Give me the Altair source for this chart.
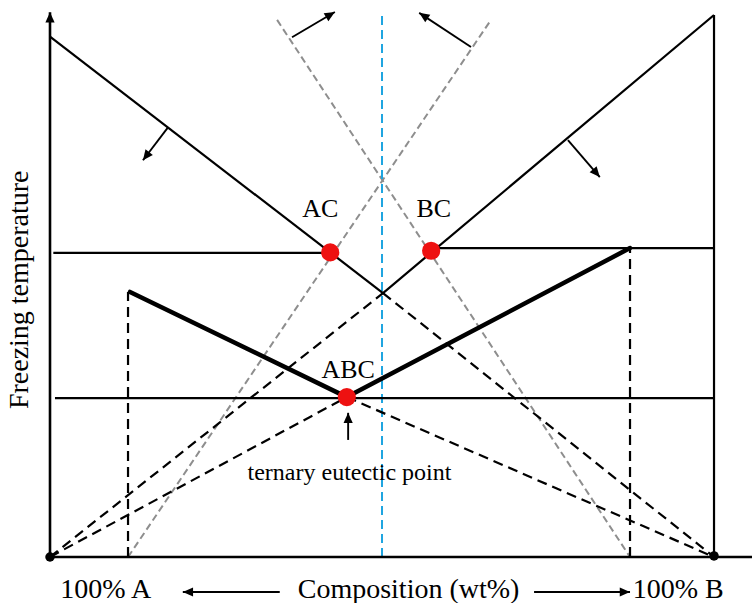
import math
import altair as alt
import pandas as pd

# ---- coordinate frame: composition (0 = 100% A, 100 = 100% B), temperature (relative) ----
X_MIN, X_MAX = -7.53, 105.72
Y_MIN, Y_MAX = -8.49, 102.77
W, H = 752, 603
PX_X = W / (X_MAX - X_MIN)
PX_Y = H / (Y_MAX - Y_MIN)

# Axes (left axis and bottom axis)
axis_x1 = [0, 0]
axis_y1 = [0, 0]
axis_x2 = [0, 106]
axis_y2 = [100.5, 0]

# Solid thin lines: liquidus lines, isotherms, right border
solid_x1 = [0, 50.15, 0.5, 57.2, 0.75, 100]
solid_y1 = [96.0, 48.7, 56.1, 57.0, 29.3, 0]
solid_x2 = [50.15, 100, 42.2, 100, 100, 100]
solid_y2 = [48.7, 100, 56.1, 57.0, 29.3, 100]

# Thick eutectic valley lines
thick_x1 = [12.05, 44.7]
thick_y1 = [48.9, 29.5]
thick_x2 = [44.7, 87.35]
thick_y2 = [29.5, 57.0]

# Black dashed construction lines
dash_x1 = [11.75, 87.35, 0, 50.15, 0, 44.7]
dash_y1 = [0, 0, 0, 48.7, 0, 29.5]
dash_x2 = [11.75, 87.35, 50.15, 100, 44.7, 100]
dash_y2 = [48.9, 57.0, 48.7, 0, 29.5, 0]

# Gray dashed lines
gray_x1 = [11.75, 34.2]
gray_y1 = [0, 99.1]
gray_x2 = [66.3, 87.35]
gray_y2 = [98.9, 0]

# Blue dashed vertical
blue_x1 = [50.0]
blue_y1 = [0]
blue_x2 = [50.0]
blue_y2 = [100.0]

# Arrows (start -> tip)
arrow_x1 = [36.45, 63.4, 17.8, 78.0, 44.9, 34.6, 72.9]
arrow_y1 = [95.9, 94.1, 79.3, 76.9, 21.6, -6.46, -6.46]
arrow_x2 = [42.9, 55.6, 14.0, 82.8, 44.9, 20.0, 87.35]
arrow_y2 = [100.55, 100.4, 73.2, 70.1, 26.6, -6.46, -6.46]

# Red points (AC, BC, ABC)
red_x = [42.2, 57.4, 44.7]
red_y = [56.2, 56.5, 29.5]

# Black end points (100% A, 100% B)
end_x = [0, 100]
end_y = [0, 0.2]

# Labels
lab_text = ["AC", "BC", "ABC", "ternary eutectic point"]
lab_x = [40.7, 57.8, 44.9, 45.1]
lab_y = [62.7, 62.7, 33.0, 14.2]
lab_size = [26, 26, 26, 24]

bot_text = ["100% A", "Composition (wt%)", "100% B"]
bot_x = [8.4, 54.0, 94.6]
bot_y = [-7.56, -7.56, -7.56]

ylab_text = ["Freezing  temperature"]
ylab_x = [-3.31]
ylab_y = [49.3]

FONT = "Liberation Serif"

xs = alt.Scale(domain=[X_MIN, X_MAX], nice=False, zero=False)
ys = alt.Scale(domain=[Y_MIN, Y_MAX], nice=False, zero=False)


def seg_layer(x1, y1, x2, y2, **mk):
    df = pd.DataFrame({"x1": x1, "y1": y1, "x2": x2, "y2": y2})
    return alt.Chart(df).mark_rule(**mk).encode(
        x=alt.X("x1:Q", scale=xs, axis=None),
        y=alt.Y("y1:Q", scale=ys, axis=None),
        x2="x2:Q",
        y2="y2:Q",
    )


def head_angle(x1, y1, x2, y2):
    dx = (x2 - x1) * PX_X
    dy = (y2 - y1) * PX_Y
    return math.degrees(math.atan2(dx, dy)) % 360


heads = pd.DataFrame({
    "x": arrow_x2 + [axis_x2[0]],
    "y": arrow_y2 + [axis_y2[0]],
    "ang": [head_angle(a, b, c, d) for a, b, c, d in zip(arrow_x1, arrow_y1, arrow_x2, arrow_y2)] + [0.0],
})

layers = [
    seg_layer(gray_x1, gray_y1, gray_x2, gray_y2, color="#8e8e8e", strokeWidth=2, strokeDash=[7, 4]),
    seg_layer(blue_x1, blue_y1, blue_x2, blue_y2, color="#1fa5e0", strokeWidth=2, strokeDash=[9, 5]),
    seg_layer(dash_x1, dash_y1, dash_x2, dash_y2, color="black", strokeWidth=2.2, strokeDash=[10, 6]),
    seg_layer(solid_x1, solid_y1, solid_x2, solid_y2, color="black", strokeWidth=2.2),
    seg_layer(axis_x1, axis_y1, axis_x2, axis_y2, color="black", strokeWidth=2.6),
    seg_layer(thick_x1, thick_y1, thick_x2, thick_y2, color="black", strokeWidth=4.5, strokeCap="round"),
    seg_layer(arrow_x1, arrow_y1, arrow_x2, arrow_y2, color="black", strokeWidth=1.9),
    alt.Chart(heads).mark_point(
        shape="M0,0L-0.45,1L0.45,1Z", filled=True, color="black", size=420, opacity=1
    ).encode(
        x=alt.X("x:Q", scale=xs, axis=None),
        y=alt.Y("y:Q", scale=ys, axis=None),
        angle=alt.Angle("ang:Q", scale=None),
    ),
    alt.Chart(pd.DataFrame({"x": red_x, "y": red_y})).mark_circle(
        color="#ee1111", size=330, opacity=1
    ).encode(
        x=alt.X("x:Q", scale=xs, axis=None),
        y=alt.Y("y:Q", scale=ys, axis=None),
    ),
    alt.Chart(pd.DataFrame({"x": end_x, "y": end_y})).mark_circle(
        color="black", size=90, opacity=1
    ).encode(
        x=alt.X("x:Q", scale=xs, axis=None),
        y=alt.Y("y:Q", scale=ys, axis=None),
    ),
    alt.Chart(pd.DataFrame({"t": lab_text, "x": lab_x, "y": lab_y, "s": lab_size})).mark_text(
        font=FONT, color="black", align="center", baseline="alphabetic"
    ).encode(
        x=alt.X("x:Q", scale=xs, axis=None),
        y=alt.Y("y:Q", scale=ys, axis=None),
        text="t:N",
        size=alt.Size("s:Q", scale=None, legend=None),
    ),
    alt.Chart(pd.DataFrame({"t": bot_text, "x": bot_x, "y": bot_y})).mark_text(
        font=FONT, fontSize=28, color="black", align="center", baseline="alphabetic"
    ).encode(
        x=alt.X("x:Q", scale=xs, axis=None),
        y=alt.Y("y:Q", scale=ys, axis=None),
        text="t:N",
    ),
    alt.Chart(pd.DataFrame({"t": ylab_text, "x": ylab_x, "y": ylab_y})).mark_text(
        font=FONT, fontSize=28, color="black", align="center", baseline="alphabetic", angle=270
    ).encode(
        x=alt.X("x:Q", scale=xs, axis=None),
        y=alt.Y("y:Q", scale=ys, axis=None),
        text="t:N",
    ),
]

chart = alt.layer(*layers).properties(
    width=W, height=H, padding=0, autosize="none", background="white"
).configure_view(stroke=None)

chart.save("out.html", embed_options={"renderer": "svg", "actions": False})
